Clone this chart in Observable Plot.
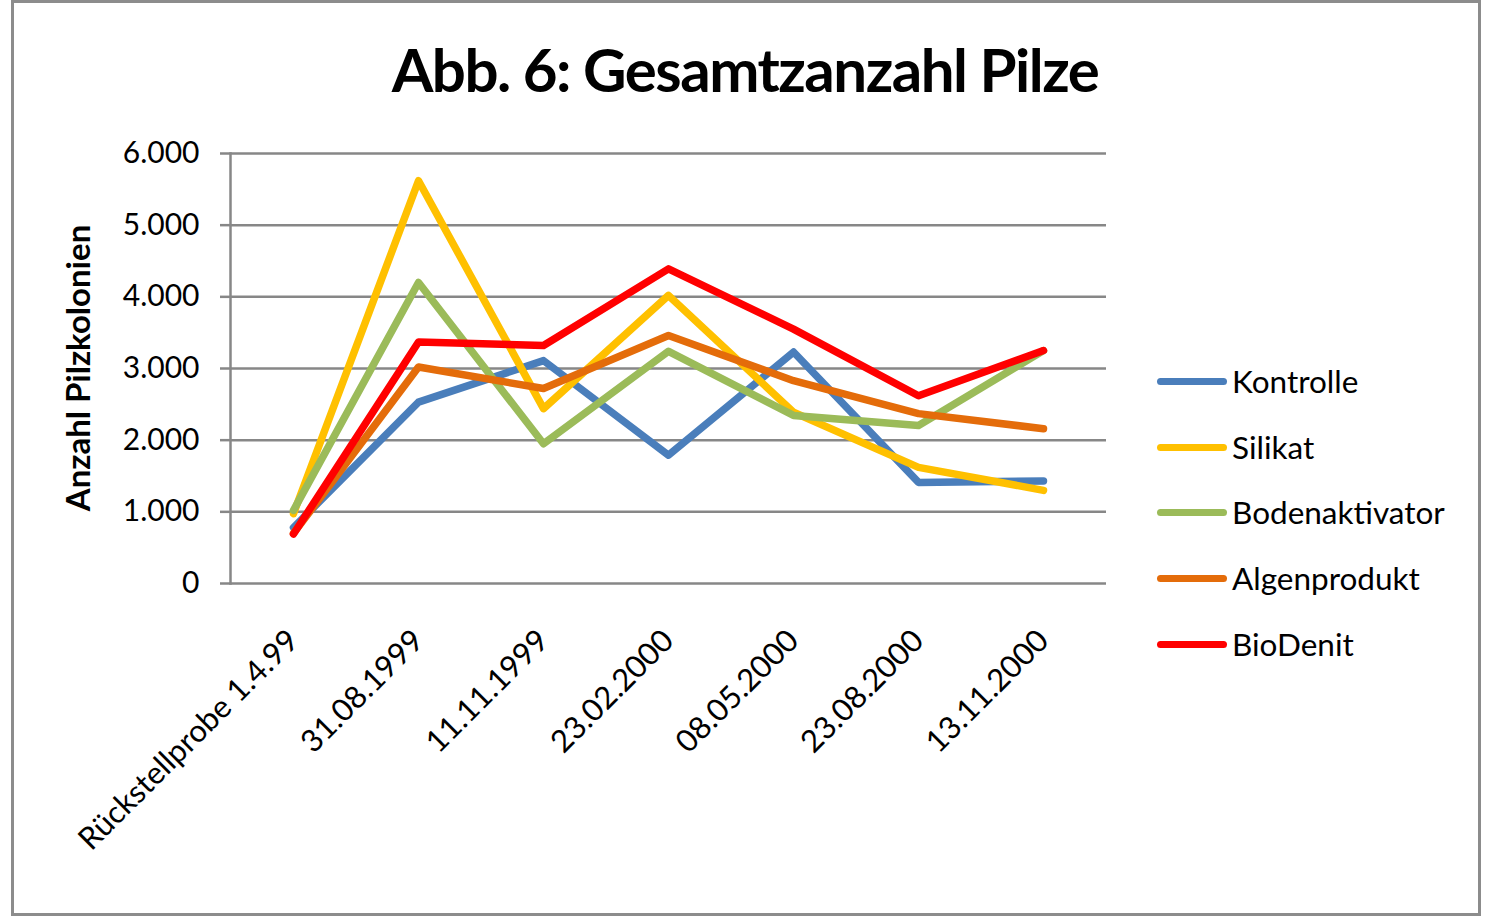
<!DOCTYPE html>
<html>
<head>
<meta charset="utf-8">
<script src="https://cdn.jsdelivr.net/npm/d3@7"></script>
<script src="https://cdn.jsdelivr.net/npm/@observablehq/plot@0.6"></script>
<style>
  html, body { margin: 0; padding: 0; background: #fff; }
  #wrap { position: relative; width: 1500px; height: 924px; overflow: hidden; background: #fff; font-family: Lato, "Open Sans", sans-serif; }
  #border { position: absolute; left: 11px; top: 0px; width: 1470px; height: 916px; box-sizing: border-box; border: 3px solid #8c8c8c; }
  #chart { position: absolute; left: 0; top: 0; }
  #title { position: absolute; left: 0; width: 1490px; top: 29px; text-align: center; font-weight: 700; font-size: 60px; letter-spacing: -1.5px; line-height: 80px; color: #000; }
  #ytitle { position: absolute; left: 77px; top: 368px; transform: translate(-50%, -50%) rotate(-90deg); white-space: nowrap; font-weight: 700; font-size: 33px; color: #000; }
  #legend { position: absolute; left: 1157px; top: 0; }
  .item { position: absolute; left: 0; display: flex; align-items: center; white-space: nowrap; height: 40px; transform: translateY(-50%); }
  .swatch { width: 70px; height: 7px; border-radius: 4px; margin-right: 5px; }
  .label { font-size: 31.5px; color: #000; }
</style>
</head>
<body>
<div id="wrap">
  <div id="border"></div>
  <div id="chart"></div>
  <div id="title"></div>
  <div id="ytitle"></div>
  <div id="legend"></div>
</div>
<script>
const titleText = "Abb. 6: Gesamtzanzahl Pilze";
const yTitle = "Anzahl Pilzkolonien";
const categories = ["Rückstellprobe 1.4.99", "31.08.1999", "11.11.1999", "23.02.2000", "08.05.2000", "23.08.2000", "13.11.2000"];
const seriesNames = ["Kontrolle", "Silikat", "Bodenaktivator", "Algenprodukt", "BioDenit"];
const kontrolle      = [780, 2530, 3110, 1790, 3230, 1410, 1430];
const silikat        = [975, 5620, 2440, 4020, 2390, 1620, 1300];
const bodenaktivator = [1020, 4200, 1950, 3240, 2345, 2205, 3250];
const algenprodukt   = [700, 3020, 2720, 3460, 2830, 2370, 2160];
const biodenit       = [690, 3370, 3320, 4390, 3550, 2620, 3250];
const seriesColors = ["#4a7ebb", "#ffc000", "#9bbb59", "#e46c0a", "#ff0000"];
const yTicks = [0, 1000, 2000, 3000, 4000, 5000, 6000];

const seriesValues = [kontrolle, silikat, bodenaktivator, algenprodukt, biodenit];
const table = [];
seriesNames.forEach((s, si) => {
  categories.forEach((c, ci) => table.push({category: c, series: s, value: seriesValues[si][ci]}));
});

const de = d3.formatLocale({decimal: ",", thousands: ".", grouping: [3], currency: ["", " €"]});
const fmt = de.format(",d");
const gridColor = "#878787";

const chart = Plot.plot({
  width: 1500,
  height: 924,
  marginLeft: 230,
  marginRight: 394,
  marginTop: 153,
  marginBottom: 341,
  style: {fontFamily: "Lato, 'Open Sans', sans-serif", fontSize: "30px", color: "#000", background: "transparent", overflow: "visible"},
  x: {type: "point", domain: categories, padding: 0.5, axis: null},
  y: {domain: [0, 6000], axis: null},
  color: {domain: seriesNames, range: seriesColors},
  marks: [
    Plot.gridY(yTicks, {stroke: gridColor, strokeOpacity: 1, strokeWidth: 2.5}),
    Plot.axisY(yTicks, {tickSize: 10, tickPadding: 21, stroke: gridColor, strokeWidth: 2.5, tickFormat: fmt, fontSize: 30, label: null}),
    Plot.frame({anchor: "left", stroke: gridColor, strokeWidth: 2.5}),
    Plot.axisX({tickSize: 0, tickRotate: -45, tickPadding: 52, fontSize: 31, label: null, dx: 0}),
    Plot.line(table, {x: "category", y: "value", z: "series", stroke: "series", strokeWidth: 7.5, strokeLinecap: "round", strokeLinejoin: "round"})
  ]
});
document.getElementById("chart").appendChild(chart);
document.getElementById("title").textContent = titleText;
document.getElementById("ytitle").textContent = yTitle;

const legendRows = [381, 447, 512, 578, 644];
const legend = document.getElementById("legend");
seriesNames.forEach((s, i) => {
  const item = document.createElement("div");
  item.className = "item";
  item.style.top = legendRows[i] + "px";
  const sw = document.createElement("div");
  sw.className = "swatch";
  sw.style.background = seriesColors[i];
  const lb = document.createElement("span");
  lb.className = "label";
  lb.textContent = s;
  item.appendChild(sw);
  item.appendChild(lb);
  legend.appendChild(item);
});
</script>
</body>
</html>
